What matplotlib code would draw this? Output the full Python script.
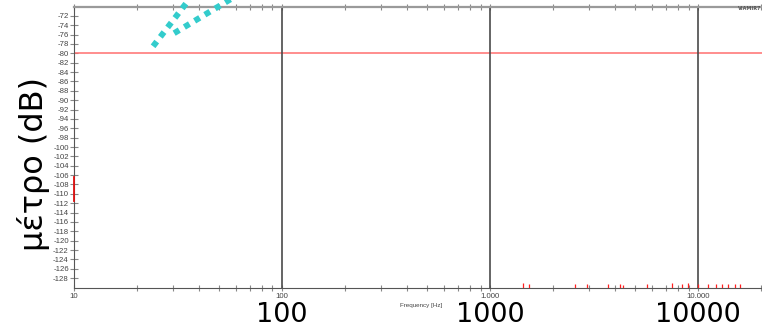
import matplotlib
matplotlib.use("Agg")
import matplotlib.pyplot as plt
import matplotlib.transforms as mtransforms
from matplotlib.ticker import FixedLocator, NullFormatter

# ---- data -------------------------------------------------------------
x_range = [10, 20300]                     # Hz
y_range = [-130, -70]                     # dB
y_ticks = list(range(-128, -71, 2))
x_major = [10, 100, 1000, 10000]
x_major_labels = ["10", "100", "1.000", "10.000"]
x_minor = [m * d for d in (10, 100, 1000) for m in range(2, 10)] + [20000]
decade_lines = [100, 1000, 10000]
reference_level = -80

# two rising traces (cyan, dotted)
trace_a_f = [24.0, 37.2]
trace_a_db = [-78.5, -67.5]
trace_b_f = [30.3, 61.4]
trace_b_db = [-75.7, -67.5]

# spectrum residue near the floor (red)
floor_f = [1442, 1541, 2563, 2927, 3692, 4217, 4358, 5684, 7499, 8375,
           8953, 10000, 11170, 12210, 13040, 13940, 15060, 15930]
floor_db = [-129.1, -129.3, -129.3, -129.2, -129.3, -129.2, -129.4, -129.2,
            -129.0, -129.3, -129.1, -129.3, -129.2, -129.3, -129.3, -129.3,
            -129.3, -129.3]
edge_db = [-106.4, -111.5]

big_x_labels = ["100", "1000", "10000"]
big_x_values = [100, 1000, 10000]
y_title = "μέτρο (dB)"
x_title = "Frequency [Hz]"
corner_tag = "VIAMIR7"

# ---- figure -----------------------------------------------------------
W, H = 762, 329
fig = plt.figure(figsize=(W / 100, H / 100), dpi=100)
fig.patch.set_facecolor("white")
ax = fig.add_axes([74 / W, (H - 287.5) / H, (W - 74) / W, (287.5 - 6.5) / H])
ax.set_xscale("log")
ax.set_xlim(*x_range)
ax.set_ylim(*y_range)

ax.spines["right"].set_visible(False)
ax.spines["left"].set_color("#555555")
ax.spines["bottom"].set_color("#555555")
ax.spines["top"].set_color("#9a9a9a")
ax.spines["top"].set_linewidth(1.6)

small_font = ["Liberation Sans", "DejaVu Sans"]
ax.xaxis.set_major_locator(FixedLocator(x_major))
ax.set_xticklabels(x_major_labels, family=small_font)
ax.xaxis.set_minor_locator(FixedLocator(x_minor))
ax.xaxis.set_minor_formatter(NullFormatter())
ax.tick_params(axis="x", which="both", direction="inout", length=5,
               color="#888888", width=0.8, labelsize=5.6, labelcolor="#444444",
               pad=1.5, top=True, labeltop=False)
ax.set_yticks(y_ticks)
ax.set_yticklabels([str(v) for v in y_ticks], family=small_font)
ax.tick_params(axis="y", direction="inout", length=5.5, color="#888888",
               width=0.8, labelsize=5.6, labelcolor="#444444", pad=1)

ax.text(0.505, -0.055, x_title, transform=ax.transAxes, fontsize=4.5,
        color="#444444", ha="center", va="top", family=small_font)
fig.text(761 / W, 1 - 9 / H, corner_tag, fontsize=3.5, color="#555555",
         ha="right", va="center", fontweight="bold")

# reference level and decade markers
ax.axhline(reference_level, color="#ff6f6f", lw=1.1, zorder=2)
for f in decade_lines:
    ax.axvline(f, color="#4a4a4a", lw=1.2, zorder=2)

# red residue
ax.vlines(floor_f, y_range[0], floor_db, color="#ff2020", lw=0.9, zorder=3)
ax.plot([x_range[0], x_range[0]], edge_db, color="#e01010", lw=1.3,
        clip_on=False, zorder=4)

# cyan traces
for fx, fy in ((trace_a_f, trace_a_db), (trace_b_f, trace_b_db)):
    ax.plot(fx, fy, color="#33cccc", lw=4.3, linestyle=(0, (1, 1.0)),
            dash_capstyle="butt", clip_on=False, zorder=5)

# overlay labels
trans = mtransforms.blended_transform_factory(ax.transData, fig.transFigure)
for v, lab in zip(big_x_values, big_x_labels):
    ax.text(v, 1 - 322 / H, lab, transform=trans, fontsize=19.5,
            ha="center", va="baseline", color="black", clip_on=False)
fig.text(34 / W, 1 - 164 / H, y_title, rotation=90, fontsize=23,
         ha="center", va="center", color="black")

fig.savefig("out.png", dpi=100)
